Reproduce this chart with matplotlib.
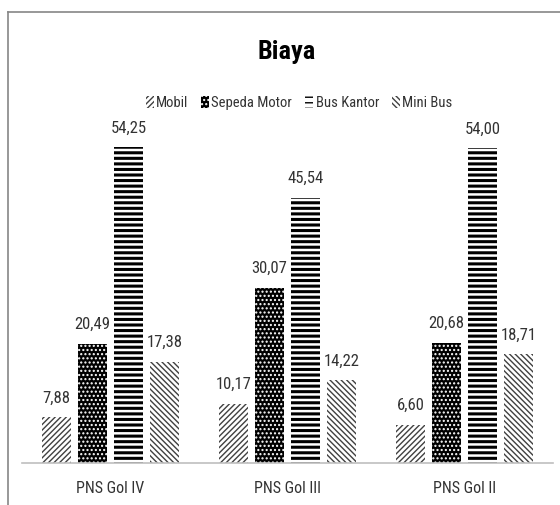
import numpy as np
import matplotlib
matplotlib.use("Agg")
import matplotlib.pyplot as plt
from matplotlib.lines import Line2D
from matplotlib import font_manager

# pick the narrowest font that is installed
font = "DejaVu Sans"
for name in ["Liberation Sans Narrow", "DejaVu Sans Condensed", "Roboto Condensed", "Roboto"]:
    try:
        font_manager.findfont(name, fallback_to_default=False)
        font = name
        break
    except ValueError:
        pass
plt.rcParams['font.family'] = [font, 'DejaVu Sans']

# data
categories = ["PNS Gol IV", "PNS Gol III", "PNS Gol II"]
series = ["Mobil", "Sepeda Motor", "Bus Kantor", "Mini Bus"]
mobil = [7.88, 10.17, 6.60]
sepeda_motor = [20.49, 30.07, 20.68]
bus_kantor = [54.25, 45.54, 54.00]
mini_bus = [17.38, 14.22, 18.71]
values = [mobil, sepeda_motor, bus_kantor, mini_bus]

styles = [
    dict(facecolor="white", edgecolor="#404040", hatch="//////"),
    dict(facecolor="black", edgecolor="white", hatch="...."),
    dict(facecolor="white", edgecolor="black", hatch="---"),
    dict(facecolor="white", edgecolor="#404040", hatch="\\\\\\\\\\\\"),
]
hatch_lw = [1.0, 1.0, 2.2, 1.0]

fig = plt.figure(figsize=(5.6, 5.05), dpi=100)
ax = fig.add_axes([22/560, 42/505, 531/560, 349.5/505])

x = np.arange(len(categories))
width = 0.164
step = 0.203
for i, (name, vals) in enumerate(zip(series, values)):
    plt.rcParams['hatch.linewidth'] = hatch_lw[i]
    pos = x + (i - 1.5) * step
    bars = ax.bar(pos, vals, width, label=name, linewidth=0, **styles[i])
    for b, v in zip(bars, vals):
        ax.text(b.get_x() + b.get_width()/2, v + 2.0, f"{v:.2f}".replace(".", ","),
                ha="center", va="bottom", fontsize=12, color="#333333")

ax.set_xlim(-0.5, 2.5)
ax.set_ylim(0, 60)
ax.set_xticks(x)
ax.set_xticklabels(categories, fontsize=11.5, color="#333333")
ax.tick_params(axis="x", length=0, pad=13)
ax.set_yticks([])
for s in ["top", "right", "left"]:
    ax.spines[s].set_visible(False)
ax.spines["bottom"].set_color("#bfbfbf")
ax.spines["bottom"].set_linewidth(1.2)

fig.text(287/560, 1 - 52/505, "Biaya", ha="center", va="center",
         fontsize=19, fontweight="bold", color="black")

fig.legend(loc="center", bbox_to_anchor=(299/560, 1 - 103/505), ncol=4,
           frameon=False, fontsize=10.5, handlelength=0.55, handleheight=0.8,
           handletextpad=0.15, columnspacing=0.9, labelcolor="#333333")

# chart border
fig.add_artist(Line2D([8/560, 8/560], [0, 1 - 12/505], transform=fig.transFigure,
                      color="#868686", lw=1.2))
fig.add_artist(Line2D([8/560, 1], [1 - 12/505, 1 - 12/505], transform=fig.transFigure,
                      color="#868686", lw=1.2))

fig.savefig("out.png", dpi=100)
